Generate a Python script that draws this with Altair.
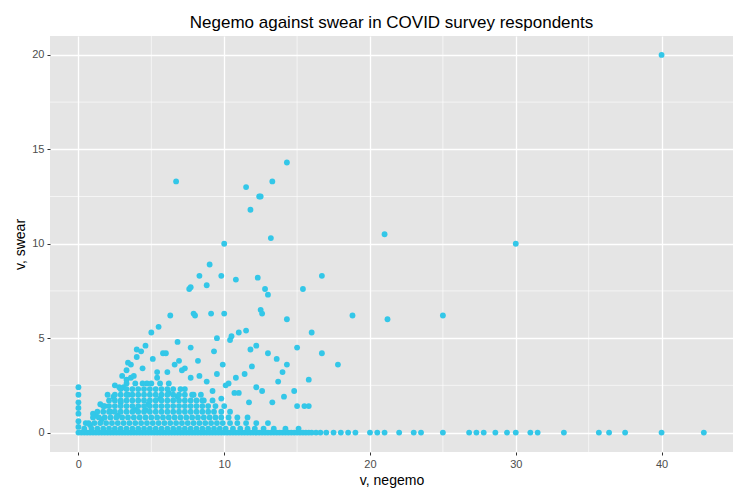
import altair as alt
import pandas as pd

# outlying respondents
x_out = [40, 14.3, 6.7, 11.5, 13.3, 11.8, 12.5, 12.4, 13.2, 10, 21, 30, 9, 8.3, 9.8,
         10.8, 12.3, 12.8, 13, 16.7, 15.4, 7.7, 7.6, 8.8, 18.8, 21.2, 25, 12.5, 12.6,
         14.3, 16, 16.7, 17.8, 15, 13, 14.3, 14, 10, 7.9, 8, 6.3, 9.1, 11, 10.5, 11.5,
         9.5, 5.5, 5, 12.2, 11.8, 10.4, 9.3, 13.6, 15.8, 15.5, 14.8]
y_out = [20, 14.3, 13.3, 13, 13.3, 11.8, 12.5, 12.5, 10.3, 10, 10.5, 10, 8.9, 8.3, 8.3,
         8.1, 8.2, 7.6, 7.3, 8.3, 7.6, 7.7, 7.6, 7.8, 6.2, 6.0, 6.2, 6.5, 6.3, 6.0, 5.3,
         4.2, 3.6, 4.5, 4.2, 3.6, 3.2, 6.3, 6.3, 6.2, 6.2, 6.3, 5.3, 5.1, 5.4, 5.0, 5.6,
         5.3, 4.6, 4.4, 4.9, 4.3, 3.9, 2.8, 1.4, 2.2]

# respondents with no swearing
x_zero = [0, 0.2, 0.4, 0.6, 0.8, 1, 1.2, 1.4, 1.6, 1.8, 2, 2.2, 2.4, 2.6, 2.8, 3, 3.2,
          3.4, 3.6, 3.8, 4, 4.2, 4.4, 4.6, 4.8, 5, 5.2, 5.4, 5.6, 5.8, 6, 6.2, 6.4,
          6.6, 6.8, 7, 7.2, 7.4, 7.6, 7.8, 8, 8.2, 8.4, 8.6, 8.8, 9, 9.2, 9.4, 9.6,
          9.8, 10, 10.2, 10.4, 10.6, 10.8, 11, 11.2, 11.4, 11.6, 11.8, 12, 12.2, 12.4,
          12.6, 12.8, 13, 13.2, 13.4, 13.6, 13.8, 14, 14.2, 14.4, 14.6, 14.8, 15,
          15.2, 15.4, 15.6, 15.8, 16, 16.3, 16.6, 17, 17.5, 18, 18.5, 19, 20, 20.5,
          21, 22, 23, 23.5, 25, 26.8, 27.3, 27.8, 28.6, 29.4, 30, 31, 31.5, 33.3,
          35.7, 36.4, 37.5, 40, 42.9]

# respondents with negemo = 0
y_left = [0.3, 0.6, 1.0, 1.3, 1.6, 2.0, 2.4]

# dense cluster, read row by row
x_cl = [0.5, 1, 1.5, 2, 2.5, 3, 3.3, 3.6, 4, 4.3, 4.6, 1.2, 1.8, 2.4, 3.1, 3.8,
        4.4, 5.1, 2.2, 2.9, 3.4, 0.8, 1.6, 2.7, 3.9, 4.8, 5.6, 6.2, 6.8, 7.3, 7.9,
        8.5, 9.2, 9.8, 10.3, 11, 11.7, 12.2, 6.1, 5.4, 4.7, 6.6, 7.1, 7.7, 8.2, 8.8,
        9.5, 10.1, 10.8, 11.4, 12.6, 13.3, 14.1, 15, 15.8, 5.8, 6.8, 7.7, 4.0, 3.4,
        6.0, 6.9, 7.3, 5.4, 4.6, 8.3, 9.9, 10.7, 11.9, 13.7, 3.3, 3.6, 2.8,
        # row 0.2
        0.4, 0.9, 1.3, 1.7, 2.1, 2.5, 2.9, 3.3, 3.7, 4.1, 4.5, 4.9, 5.3, 5.7, 6.1,
        6.5, 6.9, 7.3, 7.7, 8.1, 8.5, 8.9, 9.3, 9.7, 10.1, 10.6, 11.1, 11.6, 12.1,
        12.7, 13.4, 14.2, 15.1,
        # row 0.5
        0.7, 1.1, 1.5, 1.9, 2.3, 2.7, 3.1, 3.5, 3.9, 4.3, 4.7, 5.1, 5.5, 5.9, 6.3,
        6.7, 7.1, 7.5, 7.9, 8.3, 8.7, 9.1, 9.5, 9.9, 10.4, 10.9, 11.5, 12.2, 13.0,
        # row 0.8
        1.0, 1.4, 1.8, 2.2, 2.6, 3.0, 3.4, 3.8, 4.2, 4.6, 5.0, 5.4, 5.8, 6.2, 6.6,
        7.0, 7.4, 7.8, 8.2, 8.6, 9.0, 9.4, 9.8, 10.3, 10.9, 11.6,
        # row 1.1
        1.3, 1.7, 2.1, 2.5, 2.9, 3.3, 3.7, 4.1, 4.5, 4.9, 5.3, 5.7, 6.1, 6.5, 6.9,
        7.3, 7.7, 8.1, 8.5, 8.9, 9.3, 9.8, 10.4,
        # row 1.4
        1.7, 2.1, 2.5, 2.9, 3.3, 3.7, 4.1, 4.5, 4.9, 5.3, 5.7, 6.1, 6.5, 6.9, 7.3,
        7.7, 8.1, 8.5, 8.9, 9.4, 10.0,
        # row 1.7
        2.1, 2.5, 2.9, 3.3, 3.7, 4.1, 4.5, 4.9, 5.3, 5.7, 6.1, 6.5, 6.9, 7.3, 7.7,
        8.1, 8.6, 9.2,
        # row 2.0
        2.5, 2.9, 3.3, 3.7, 4.1, 4.5, 4.9, 5.3, 5.7, 6.1, 6.5, 6.9, 7.3, 7.8, 8.4,
        # row 2.3 / 2.6
        2.9, 3.3, 3.7, 4.1, 4.5, 4.9, 5.3, 5.7, 6.1, 6.5, 7.0, 3.3, 3.9, 4.4, 5.0,
        5.6, 6.2]
y_cl = [0.5, 1.0, 1.5, 2.0, 2.5, 3.0, 3.3, 3.6, 4.0, 4.3, 4.6, 0.9, 1.4, 1.9, 2.4, 3.0,
        3.4, 3.9, 1.1, 1.6, 2.0, 0.4, 0.7, 0.9, 1.2, 1.5, 1.8, 2.1, 1.9, 2.3, 2.0, 1.7,
        2.2, 1.8, 2.6, 2.1, 1.6, 2.4, 3.2, 2.9, 2.6, 3.6, 3.3, 2.9, 3.8, 2.7, 3.1, 2.5,
        2.9, 3.1, 2.2, 1.6, 1.9, 1.4, 1.4, 4.2, 4.8, 4.5, 4.4, 3.7, 4.2, 3.8, 3.4,
        3.2, 1.2, 3.0, 3.6, 2.1, 3.5, 2.7, 2.8, 2.9, 2.4]
y_cl += ([0.2] * 33 + [0.5] * 29 + [0.8] * 26 + [1.1] * 23 + [1.4] * 21
         + [1.7] * 18 + [2.0] * 15 + [2.3] * 11 + [2.6] * 6)

xs = x_out + x_zero + [0] * len(y_left) + x_cl
ys = y_out + [0] * len(x_zero) + y_left + y_cl
df = pd.DataFrame({"negemo": xs, "swear": ys})

# minor grid positions
minor_x = [5, 15, 25, 35]
minor_y = [2.5, 7.5, 12.5, 17.5]

xscale = alt.Scale(domain=[-1.95, 44.9], nice=False, zero=False)
yscale = alt.Scale(domain=[-1.03, 21], nice=False, zero=False)

vx = (alt.Chart(pd.DataFrame({"v": minor_x})).mark_rule(color="white", strokeWidth=0.6)
      .encode(x=alt.X("v:Q", scale=xscale)))
hy = (alt.Chart(pd.DataFrame({"v": minor_y})).mark_rule(color="white", strokeWidth=0.6)
      .encode(y=alt.Y("v:Q", scale=yscale)))

points = (alt.Chart(df).mark_circle(size=34, opacity=1, color="#33C7E8")
          .encode(
              x=alt.X("negemo:Q", scale=xscale,
                      axis=alt.Axis(values=[0, 10, 20, 30, 40])),
              y=alt.Y("swear:Q", scale=yscale,
                      axis=alt.Axis(values=[0, 5, 10, 15, 20]))))

chart = (alt.layer(vx, hy, points)
         .properties(width=734, height=484,
                     autosize=alt.AutoSizeParams(type="fit", contains="padding"),
                     padding={"left": 5, "top": 5, "right": 8, "bottom": 5},
                     title="Negemo against swear in COVID survey respondents")
         .configure_view(fill="#E5E5E5", stroke=None)
         .configure_axis(gridColor="white", gridWidth=1.3, domain=False, tickSize=3,
                         tickColor="#333333",
                         labelColor="#4D4D4D", labelFontSize=11, labelFont="Liberation Sans",
                         titleFont="Liberation Sans", titleFontSize=14, titleFontWeight="normal",
                         titleColor="black", labelPadding=3)
         .configure_title(font="Liberation Sans", fontSize=17, fontWeight="normal", anchor="middle"))

chart.save("out.html", embed_options={"renderer": "svg", "actions": False})
